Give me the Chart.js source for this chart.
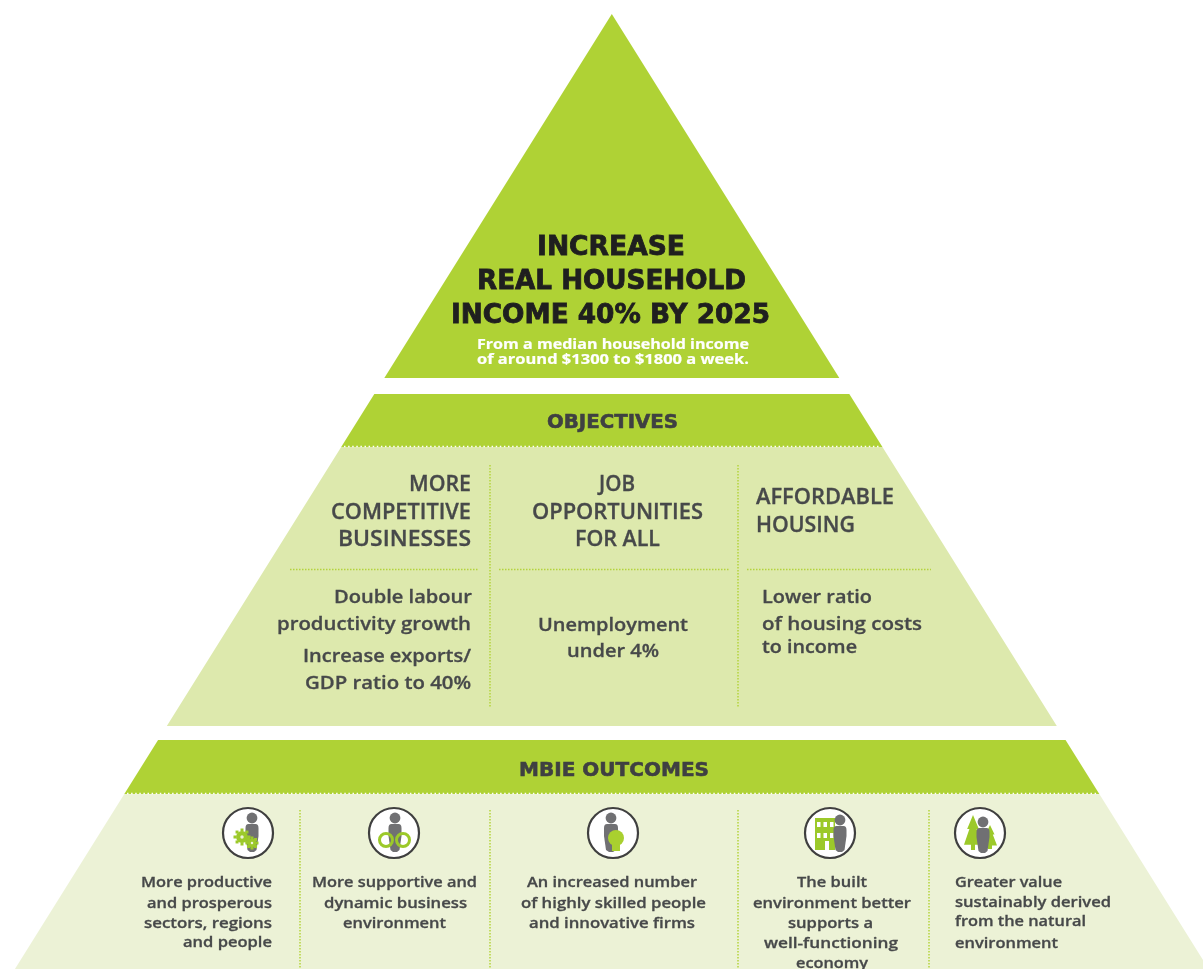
<!DOCTYPE html>
<html>
<head>
<meta charset="utf-8">
<title>Increase real household income</title>
<style>
  html, body { margin: 0; background: #fff; }
  #pyramid { display: block; filter: blur(0.45px); }
</style>
<script src="https://cdn.jsdelivr.net/npm/chart.js@4"></script>
</head>
<body>
<canvas id="pyramid" width="1203" height="969"></canvas>
<script>
// text of the pyramid
const headline = ['INCREASE', 'REAL HOUSEHOLD', 'INCOME 40% BY 2025'];
const subline = ['From a median household income', 'of around $1300 to $1800 a week.'];
const sections = ['OBJECTIVES', 'MBIE OUTCOMES'];
const objectives = ['MORE', 'COMPETITIVE', 'BUSINESSES', 'JOB', 'OPPORTUNITIES', 'FOR ALL', 'AFFORDABLE', 'HOUSING'];
const measures = ['Double labour', 'productivity growth', 'Increase exports/', 'GDP ratio to 40%',
  'Unemployment', 'under 4%', 'Lower ratio', 'of housing costs', 'to income'];
const outcomes = ['More productive', 'and prosperous', 'sectors, regions', 'and people',
  'More supportive and', 'dynamic business', 'environment',
  'An increased number', 'of highly skilled people', 'and innovative firms',
  'The built', 'environment better', 'supports a', 'well-functioning', 'economy',
  'Greater value', 'sustainably derived', 'from the natural', 'environment'];

// pyramid tiers, top and bottom of each band
const tierTops = [14, 394, 447, 740, 794];
const tierBottoms = [378, 447, 726, 794, 969];
const tierColors = ['#afd235', '#afd235', '#dde9ad', '#afd235', '#ecf2d6'];
const iconKinds = ['gears', 'loop', 'bulb', 'building', 'trees'];

// layout, all in picture units: [left, right, baseline]
const headlinePos = [[537, 685, 255], [477, 746, 289], [451, 770, 323]];
const sublinePos = [[477, 749, 349], [477, 749, 364]];
const sectionPos = [[547, 678, 428], [519, 709, 776]];
const objectivePos = [[409, 471, 491], [331, 471, 519], [338, 471, 546],
  [599, 635, 491], [532, 703, 519], [575, 660, 546], [756, 894, 504], [756, 855, 532]];
const measurePos = [[334, 472, 603], [277, 471, 630], [303, 471, 662], [305, 471, 689],
  [538, 688, 631], [567, 659, 657], [762, 872, 603], [762, 922, 630], [762, 857, 653]];
const outcomePos = [[141, 272, 887], [147, 272, 908], [144, 272, 928], [183, 272, 947],
  [312, 477, 887], [324, 467, 908], [343, 446, 928],
  [527, 697, 887], [521, 706, 908], [529, 695, 928],
  [797, 867, 887], [753, 911, 908], [788, 873, 928], [764, 898, 948], [796, 868, 968],
  [955, 1062, 887], [955, 1111, 907], [955, 1086, 926], [955, 1058, 948]];

const apexX = 611.8, apexY = 14, edgeSlope = 0.625;
const iconX = [248, 394, 613, 830, 980];
const iconY = 833;

const textBlocks = [
  { lines: headline, pos: headlinePos, font: 'bold 26px "DejaVu Sans"', color: '#1f1f1f', stroke: 0.8 },
  { lines: subline, pos: sublinePos, font: 'bold 14px "Open Sans"', color: '#ffffff', stroke: 0.2 },
  { lines: sections, pos: sectionPos, font: 'bold 20px "DejaVu Sans"', color: '#3f4042', stroke: 0.6 },
  { lines: objectives, pos: objectivePos, font: '600 21px "Open Sans"', color: '#47494a', stroke: 0.3 },
  { lines: measures, pos: measurePos, font: '600 18px "Open Sans"', color: '#47494a', stroke: 0.3 },
  { lines: outcomes, pos: outcomePos, font: '600 14.5px "Open Sans"', color: '#47494a', stroke: 0.3 }
];

function tierShape(top, bottom) {
  const halfTop = (top - apexY) * edgeSlope;
  const halfBottom = (bottom - apexY) * edgeSlope;
  return [
    { x: apexX - halfTop, y: top },
    { x: apexX + halfTop, y: top },
    { x: apexX + halfBottom, y: bottom },
    { x: apexX - halfBottom, y: bottom },
    { x: apexX - halfTop, y: top }
  ];
}

function dotted(points, color, dash) {
  return {
    data: points,
    showLine: true,
    borderColor: color,
    borderWidth: 1.5,
    borderDash: dash,
    pointRadius: 0,
    fill: false
  };
}

function seg(x1, y1, x2, y2) {
  return [{ x: x1, y: y1 }, { x: x2, y: y2 }];
}

const dotGreen = '#b4d43c';
const separators = [
  seg(490, 465, 490, 708), seg(738, 465, 738, 708),
  seg(290, 569.5, 479, 569.5), seg(499, 569.5, 730, 569.5), seg(747, 569.5, 931, 569.5),
  seg(300, 810, 300, 969), seg(490, 810, 490, 969), seg(738, 810, 738, 969), seg(929, 810, 929, 969)
].map(function (s) { return dotted(s, dotGreen, [1.5, 1.5]); });

const bandDots = [seg(344, 446.5, 881, 446.5), seg(127, 793.5, 1097, 793.5)]
  .map(function (s) { return dotted(s, '#ffffff', [1.5, 2.6]); });

const tiers = tierTops.map(function (top, i) {
  return {
    data: tierShape(top, tierBottoms[i]),
    showLine: true,
    borderWidth: 0,
    pointRadius: 0,
    backgroundColor: tierColors[i],
    fill: 'shape'
  };
});

const iconCircles = {
  data: iconX.map(function (x) { return { x: x, y: iconY }; }),
  showLine: false,
  pointRadius: 25,
  pointBackgroundColor: '#ffffff',
  pointBorderColor: '#3f3f3f',
  pointBorderWidth: 2.2
};

function person(ctx, cx, headY, half, bottom) {
  ctx.fillStyle = '#707073';
  ctx.beginPath();
  ctx.arc(cx, headY, 5.4, 0, Math.PI * 2);
  ctx.fill();
  ctx.beginPath();
  ctx.moveTo(cx - half + 3, headY + 6);
  ctx.lineTo(cx + half - 3, headY + 6);
  ctx.quadraticCurveTo(cx + half, headY + 6, cx + half, headY + 10);
  ctx.lineTo(cx + half, bottom - 16);
  ctx.lineTo(cx + half - 2, bottom - 2);
  ctx.lineTo(cx + 2, bottom);
  ctx.lineTo(cx - 2, bottom);
  ctx.lineTo(cx - half + 2, bottom - 2);
  ctx.lineTo(cx - half, bottom - 16);
  ctx.lineTo(cx - half, headY + 10);
  ctx.quadraticCurveTo(cx - half, headY + 6, cx - half + 3, headY + 6);
  ctx.fill();
}

function gear(ctx, cx, cy, r) {
  ctx.fillStyle = '#9cc92a';
  for (let i = 0; i < 8; i++) {
    const a = i * Math.PI / 4;
    ctx.fillRect(cx + Math.cos(a) * r - 1.5, cy + Math.sin(a) * r - 1.5, 3, 3);
  }
  ctx.beginPath();
  ctx.arc(cx, cy, r * 0.85, 0, Math.PI * 2);
  ctx.fill();
  ctx.fillStyle = '#eef3d8';
  ctx.beginPath();
  ctx.arc(cx, cy, r * 0.25, 0, Math.PI * 2);
  ctx.fill();
}

function tree(ctx, cx, top, bottom, half) {
  const h = bottom - top;
  ctx.fillStyle = '#9cc92a';
  ctx.beginPath();
  ctx.moveTo(cx, top);
  ctx.lineTo(cx + half * 0.65, top + h * 0.4);
  ctx.lineTo(cx + half * 0.4, top + h * 0.4);
  ctx.lineTo(cx + half, top + h * 0.85);
  ctx.lineTo(cx + 2, top + h * 0.85);
  ctx.lineTo(cx + 2, bottom);
  ctx.lineTo(cx - 2, bottom);
  ctx.lineTo(cx - 2, top + h * 0.85);
  ctx.lineTo(cx - half, top + h * 0.85);
  ctx.lineTo(cx - half * 0.4, top + h * 0.4);
  ctx.lineTo(cx - half * 0.65, top + h * 0.4);
  ctx.closePath();
  ctx.fill();
}

// small pictures inside the circles
const iconDrawers = {
  gears: function (ctx, cx, cy) {
    person(ctx, cx + 4, cy - 15, 6.5, cy + 19);
    gear(ctx, cx - 6, cy + 4, 7);
    gear(ctx, cx + 4, cy + 10, 5);
  },
  loop: function (ctx, cx, cy) {
    person(ctx, cx + 1, cy - 15, 6.5, cy + 19);
    ctx.strokeStyle = '#9cc92a';
    ctx.lineWidth = 3;
    ctx.beginPath();
    ctx.arc(cx - 8, cy + 7, 6.5, 0, Math.PI * 2);
    ctx.moveTo(cx + 15.5, cy + 7);
    ctx.arc(cx + 9, cy + 7, 6.5, 0, Math.PI * 2);
    ctx.stroke();
  },
  bulb: function (ctx, cx, cy) {
    person(ctx, cx - 2, cy - 15, 7, cy + 19);
    ctx.fillStyle = '#a9d02f';
    ctx.beginPath();
    ctx.arc(cx + 3, cy + 5, 8, 0, Math.PI * 2);
    ctx.fill();
    ctx.fillRect(cx - 1, cy + 10, 8, 8);
  },
  building: function (ctx, cx, cy) {
    ctx.fillStyle = '#9cc92a';
    ctx.fillRect(cx - 15, cy - 15, 20, 32);
    ctx.fillStyle = '#ffffff';
    for (let r = 0; r < 2; r++) {
      for (let c = 0; c < 3; c++) {
        ctx.fillRect(cx - 13 + c * 6.5, cy - 11 + r * 11, 3.5, 5);
      }
    }
    ctx.fillRect(cx - 5, cy + 8, 4, 9);
    person(ctx, cx + 10, cy - 13, 6.5, cy + 19);
  },
  trees: function (ctx, cx, cy) {
    tree(ctx, cx - 7, cy - 18, cy + 17, 9);
    tree(ctx, cx + 10, cy - 8, cy + 16, 7);
    person(ctx, cx + 3, cy - 11, 6.5, cy + 20);
  }
};

const pyramidArt = {
  id: 'pyramidArt',
  afterDatasetsDraw: function (chart) {
    const ctx = chart.ctx;
    const sx = chart.scales.x, sy = chart.scales.y;
    ctx.save();
    iconKinds.forEach(function (kind, i) {
      iconDrawers[kind](ctx, sx.getPixelForValue(iconX[i]), sy.getPixelForValue(iconY));
    });
    ctx.textAlign = 'left';
    ctx.textBaseline = 'alphabetic';
    textBlocks.forEach(function (block) {
      ctx.font = block.font;
      ctx.fillStyle = block.color;
      ctx.strokeStyle = block.color;
      ctx.lineWidth = block.stroke;
      block.lines.forEach(function (line, i) {
        const p = block.pos[i];
        const left = sx.getPixelForValue(p[0]);
        const width = sx.getPixelForValue(p[1]) - left;
        // squeeze each line to the width it has in the print layout
        ctx.save();
        ctx.translate(left, sy.getPixelForValue(p[2]));
        ctx.scale(width / ctx.measureText(line).width, 1);
        ctx.fillText(line, 0, 0);
        ctx.strokeText(line, 0, 0);
        ctx.restore();
      });
    });
    ctx.restore();
  }
};

new Chart(document.getElementById('pyramid'), {
  type: 'scatter',
  data: { datasets: [iconCircles].concat(bandDots, separators, tiers) },
  plugins: [pyramidArt],
  options: {
    responsive: false,
    animation: false,
    layout: { padding: 0, autoPadding: false },
    plugins: { legend: { display: false }, tooltip: { enabled: false }, title: { display: false } },
    scales: {
      x: { type: 'linear', min: 0, max: 1203, display: false },
      y: { type: 'linear', min: 0, max: 969, reverse: true, display: false }
    }
  }
});
</script>
</body>
</html>
